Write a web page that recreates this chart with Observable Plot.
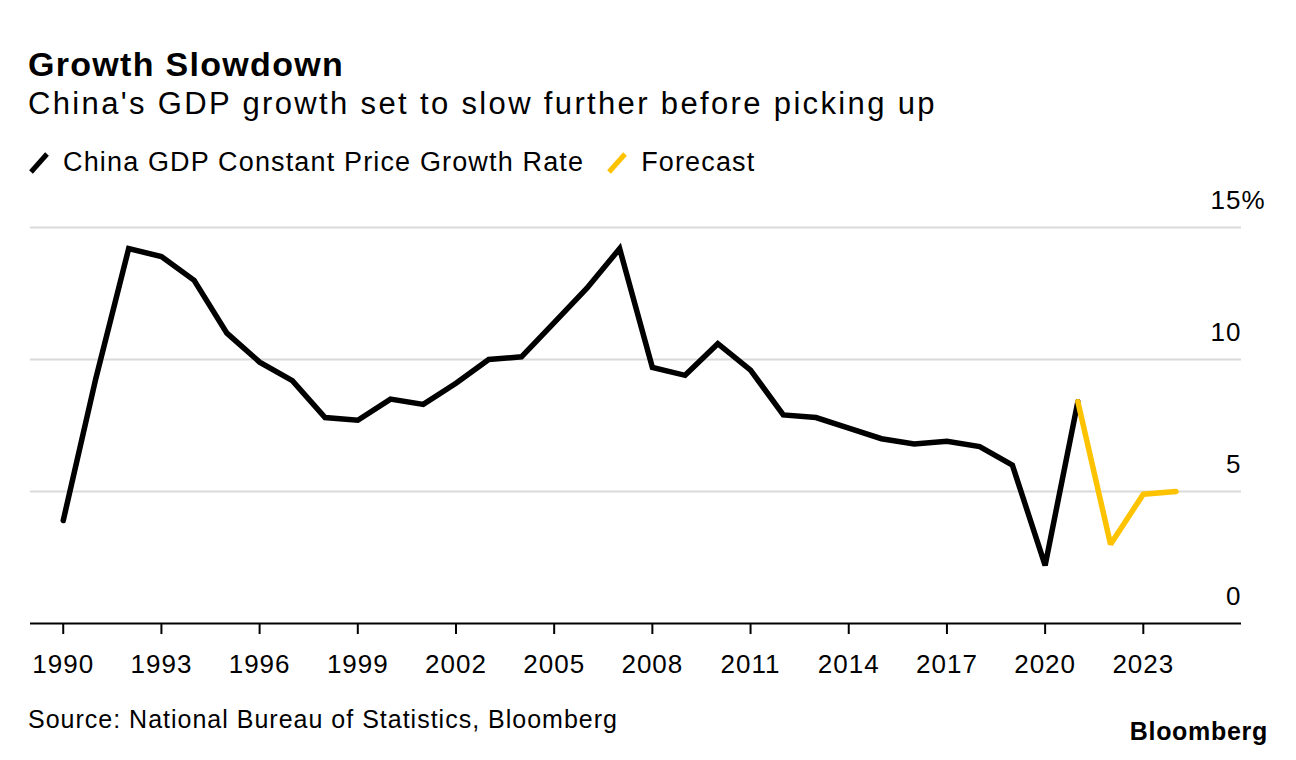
<!DOCTYPE html>
<html>
<head>
<meta charset="utf-8">
<script src="https://cdn.jsdelivr.net/npm/d3@7"></script>
<script src="https://cdn.jsdelivr.net/npm/@observablehq/plot@0.6"></script>
<style>
  html, body { margin: 0; padding: 0; background: #fff; }
  body { width: 1296px; height: 760px; position: relative; overflow: hidden;
         font-family: "Liberation Sans", Helvetica, Arial, sans-serif; color: #000; }
  .abs { position: absolute; white-space: nowrap; }
  #title { left: 28px; top: 47px; font-size: 34px; line-height: 34px; font-weight: bold; letter-spacing: 1.3px; }
  #subtitle { left: 28px; top: 88px; font-size: 31px; line-height: 31px; letter-spacing: 2.35px; }
  #legend { left: 28px; top: 149px; font-size: 27px; line-height: 27px; display: flex; align-items: center; letter-spacing: 1.15px; }
  #legend .item { display: flex; align-items: center; margin-right: 22px; }
  #legend svg { margin-right: 13px; }
  #chart { left: 0; top: 190px; }
  #source { left: 28px; top: 707px; font-size: 25px; line-height: 25px; letter-spacing: 1px; }
  #brand { right: 28px; top: 719px; font-size: 25px; line-height: 25px; font-weight: bold; letter-spacing: 0.7px; }
  #chart svg text { letter-spacing: 1px; }
</style>
</head>
<body>
<div id="title" class="abs">Growth Slowdown</div>
<div id="subtitle" class="abs">China's GDP growth set to slow further before picking up</div>
<div id="legend" class="abs"></div>
<div id="chart" class="abs"></div>
<div id="source" class="abs">Source: National Bureau of Statistics, Bloomberg</div>
<div id="brand" class="abs">Bloomberg</div>
<script>
// ---- Data ----
const years = [1990, 1991, 1992, 1993, 1994, 1995, 1996, 1997, 1998, 1999,
               2000, 2001, 2002, 2003, 2004, 2005, 2006, 2007, 2008, 2009,
               2010, 2011, 2012, 2013, 2014, 2015, 2016, 2017, 2018, 2019,
               2020, 2021];
const growth = [3.9, 9.3, 14.2, 13.9, 13.0, 11.0, 9.9, 9.2, 7.8, 7.7,
                8.5, 8.3, 9.1, 10.0, 10.1, 11.4, 12.7, 14.2, 9.7, 9.4,
                10.6, 9.6, 7.9, 7.8, 7.4, 7.0, 6.8, 6.9, 6.7, 6.0,
                2.2, 8.4];
const forecastYears = [2021, 2022, 2023, 2024];
const forecastValues = [8.4, 3.0, 4.9, 5.0];
const xTicks = [1990, 1993, 1996, 1999, 2002, 2005, 2008, 2011, 2014, 2017, 2020, 2023];
const yTicks = [0, 5, 10, 15];
const seriesNames = ["China GDP Constant Price Growth Rate", "Forecast"];
const seriesColors = ["#000000", "#fdc300"];

const actual = years.map((y, i) => ({year: y, value: growth[i]}));
const forecast = forecastYears.map((y, i) => ({year: y, value: forecastValues[i]}));

// ---- Legend ----
const legend = document.getElementById("legend");
seriesNames.forEach((name, i) => {
  const item = document.createElement("div");
  item.className = "item";
  item.innerHTML = `<svg width="22" height="24" viewBox="0 0 22 24"><line x1="3" y1="21" x2="19" y2="3" stroke="${seriesColors[i]}" stroke-width="5"/></svg><span>${name}</span>`;
  legend.appendChild(item);
});

// ---- Chart ----
const chart = Plot.plot({
  width: 1296,
  height: 500,
  marginLeft: 30,
  marginRight: 55,
  marginTop: 37,
  marginBottom: 67,
  style: {fontFamily: '"Liberation Sans", Helvetica, Arial, sans-serif', background: "transparent", color: "#000", overflow: "visible"},
  x: {domain: [1989, 2026]},
  y: {domain: [0, 15]},
  marks: [
    Plot.gridY(yTicks.filter(d => d > 0), {stroke: "#d9d9d9", strokeOpacity: 1, strokeWidth: 2}),
    Plot.ruleY([0], {stroke: "#000", strokeWidth: 2}),
    Plot.axisX({ticks: xTicks, tickFormat: d => String(d), tickSize: 11, tickPadding: 20, fontSize: 26, strokeWidth: 2, label: null}),
    Plot.axisY({anchor: "right", ticks: yTicks, tickSize: 0, tickPadding: 0, textAnchor: "end", dy: -27, fontSize: 26, label: null, tickFormat: d => String(d)}),
    Plot.text([15], {y: d => d, frameAnchor: "right", text: () => "%", textAnchor: "start", dy: -27, dx: 0, fontSize: 26}),
    Plot.line(actual, {x: "year", y: "value", stroke: seriesColors[0], strokeWidth: 5.5, strokeLinejoin: "miter", strokeMiterlimit: 2.5}),
    Plot.line(forecast, {x: "year", y: "value", stroke: seriesColors[1], strokeWidth: 5.5, strokeLinejoin: "miter", strokeMiterlimit: 2.5})
  ]
});
document.getElementById("chart").appendChild(chart);
</script>
</body>
</html>
